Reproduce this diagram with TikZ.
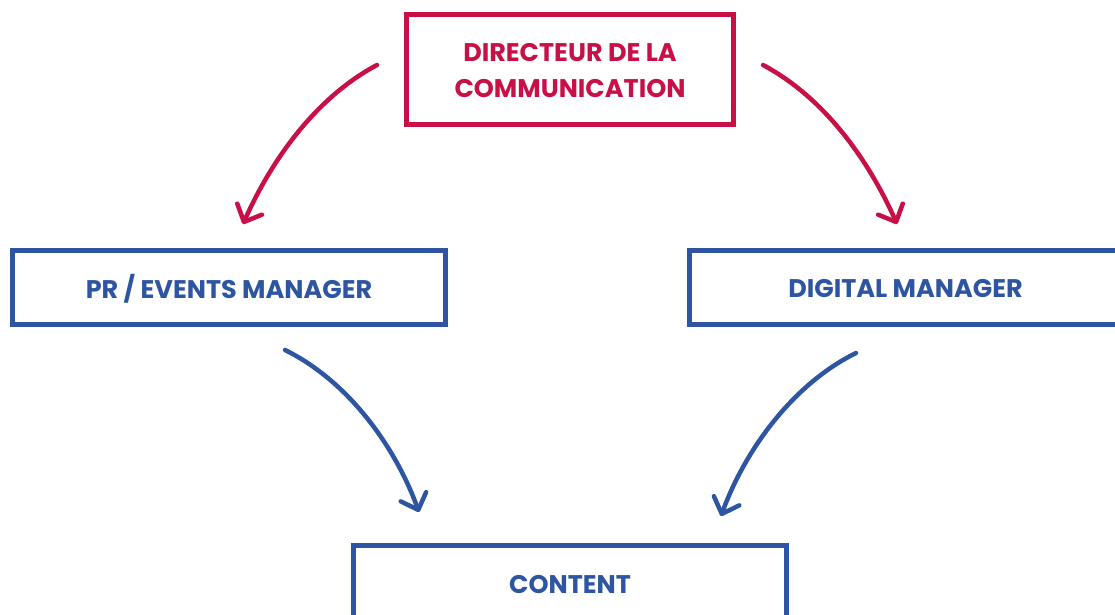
\documentclass[tikz,border=0pt]{standalone}
\usepackage{fontspec}
\setmainfont{Poppins}
\usetikzlibrary{arrows.meta}
\definecolor{cred}{RGB}{200,16,70}
\definecolor{cblue}{RGB}{46,85,162}
\tikzset{
  box/.style={draw, line width=5pt, rectangle, inner sep=0pt, font=\fontsize{25.5}{35}\selectfont\bfseries, align=center},
  redbox/.style={box, draw=cred, text=cred},
  bluebox/.style={box, draw=cblue, text=cblue},
  conn/.style={line width=4.5pt, line cap=round, -{Straight Barb[length=14pt,width=27pt,line cap=round,line join=round]}},
}
\newcommand{\lowerby}[2]{\raisebox{-#1}[\height][\depth]{#2}}
\begin{document}
\begin{tikzpicture}[x=1pt,y=-1pt]
\useasboundingbox (0,0) rectangle (1115,614);
\fill[white] (0,0) rectangle (1115,614);
\node[redbox, minimum width=327pt, minimum height=110pt] (dir) at (570,69.5) {\lowerby{3pt}{\begin{tabular}{@{}c@{}}DIRECTEUR DE LA\\[1pt]COMMUNICATION\end{tabular}}};
\node[bluebox, minimum width=433pt, minimum height=74pt] (pr) at (229,287.5) {\lowerby{1.5pt}{PR / EVENTS MANAGER}};
\node[bluebox, minimum width=433pt, minimum height=74pt] (dig) at (905.5,287.5) {\lowerby{1.5pt}{DIGITAL MANAGER}};
\node[bluebox, minimum width=433pt, minimum height=74pt] (con) at (570,582.5) {\lowerby{2pt}{CONTENT}};
\coordinate (rls) at (377,65);
\coordinate (rle) at (243,224);
\coordinate (rrs) at (763,65);
\coordinate (rre) at (897,224);
\coordinate (bls) at (285,350);
\coordinate (ble) at (419,512);
\coordinate (brs) at (856,353);
\coordinate (bre) at (721,516);
\draw[conn, cred] (rls) .. controls (315,98) and (271,161) .. (rle);
\draw[conn, cred] (rrs) .. controls (825,98) and (869,161) .. (rre);
\draw[conn, cblue] (bls) .. controls (348,381) and (395,446) .. (ble);
\draw[conn, cblue] (brs) .. controls (793,384) and (745,450) .. (bre);
\end{tikzpicture}
\end{document}
